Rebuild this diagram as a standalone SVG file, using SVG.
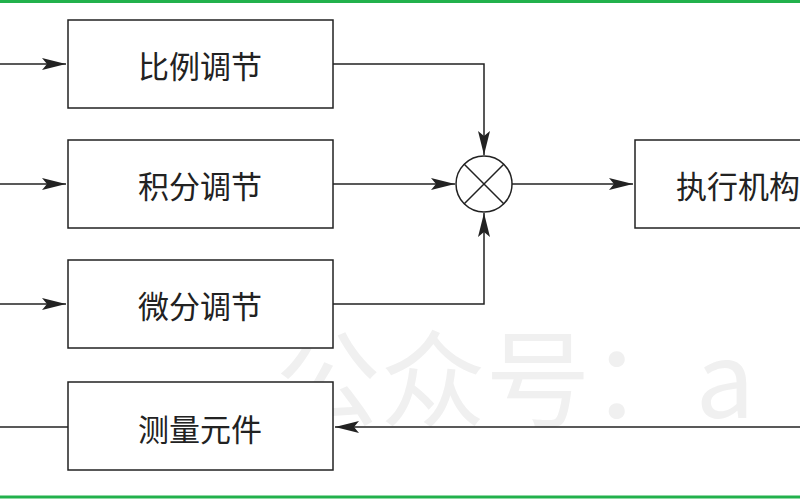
<svg xmlns="http://www.w3.org/2000/svg" width="800" height="500" viewBox="0 0 800 500">
<defs><marker id="a" markerWidth="24" markerHeight="12" refX="24" refY="6" orient="auto" markerUnits="userSpaceOnUse"><path d="M0,0 L24,6 L0,12 L5,6 z" fill="#222"/></marker></defs>
<style>.b{fill:#fff;stroke:#222;stroke-width:1.5}.t{font-family:"Noto Sans CJK SC",sans-serif;font-size:31px;fill:#222;text-anchor:middle;dominant-baseline:central}.l{fill:none;stroke:#222;stroke-width:1.5}</style>
<rect width="800" height="500" fill="#fff"/>
<line x1="0" y1="1.5" x2="800" y2="1.5" stroke="#22b14c" stroke-width="3"/>
<line x1="0" y1="497" x2="800" y2="497" stroke="#22b14c" stroke-width="3"/>
<text x="515" y="418" font-family="Noto Sans CJK SC,sans-serif" font-size="105" fill="#f0f0f0" text-anchor="middle">公众号：a</text>
<g id="connectors">
<line class="l" x1="0" y1="64" x2="66" y2="64" marker-end="url(#a)"/>
<line class="l" x1="0" y1="184" x2="66" y2="184" marker-end="url(#a)"/>
<line class="l" x1="0" y1="304" x2="66" y2="304" marker-end="url(#a)"/>
<polyline class="l" points="333,64 484,64 484,155" marker-end="url(#a)"/>
<line class="l" x1="333" y1="184" x2="455" y2="184" marker-end="url(#a)"/>
<polyline class="l" points="333,304 484,304 484,213" marker-end="url(#a)"/>
<line class="l" x1="512" y1="184" x2="633" y2="184" marker-end="url(#a)"/>
<line class="l" x1="800" y1="427" x2="335" y2="427" marker-end="url(#a)"/>
<line class="l" x1="68" y1="427" x2="0" y2="427"/>
</g>
<g id="p"><rect class="b" x="68" y="20" width="265" height="88"/><text class="t" x="200" y="64">比例调节</text></g>
<g id="i"><rect class="b" x="68" y="140" width="265" height="88"/><text class="t" x="200" y="184">积分调节</text></g>
<g id="d"><rect class="b" x="68" y="260" width="265" height="88"/><text class="t" x="200" y="304">微分调节</text></g>
<g id="m"><rect class="b" x="68" y="382" width="265" height="88"/><text class="t" x="200" y="427">测量元件</text></g>
<g id="sum"><circle class="b" cx="484" cy="184" r="28"/><path class="l" d="M464,164 L504,204 M504,164 L464,204"/></g>
<g id="e"><rect class="b" x="635" y="140" width="200" height="88"/><text class="t" x="676" y="184" style="text-anchor:start">执行机构</text></g>
</svg>
